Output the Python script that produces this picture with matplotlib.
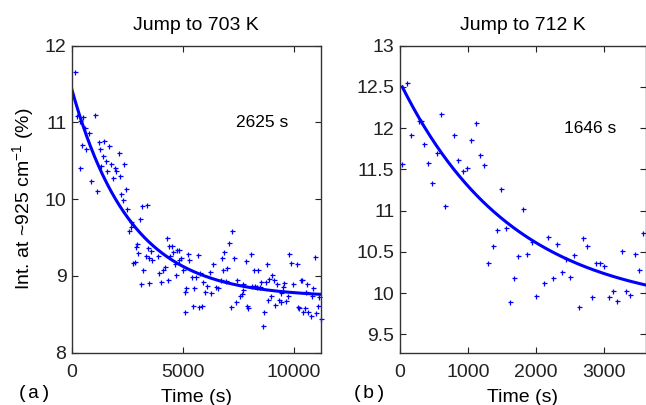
import numpy as np
import matplotlib
matplotlib.use("Agg")
import matplotlib.pyplot as plt

plt.rcParams['font.family'] = ['Liberation Sans', 'DejaVu Sans']
plt.rcParams['mathtext.fontset'] = 'custom'
plt.rcParams['mathtext.rm'] = 'Liberation Sans'
plt.rcParams['mathtext.it'] = 'Liberation Sans'

# ---- data: panel (a) Jump to 703 K ----
t_a = [120, 240, 345, 496, 572, 753, 1023, 451, 645, 375, 1203, 1443, 1654, 1278, 1398,
       2105, 1549, 1323, 1774, 1924, 1594, 2000, 2180, 1850, 2345, 872, 1143, 2420, 2225,
       2300, 2496, 3156, 2646, 2676, 2556, 3052, 2931, 2872, 2991,
       3370, 2766, 2830, 3216, 3097, 3487, 3412, 3562, 3472, 3622, 3337, 3863, 3938, 4013,
       4118, 4193, 4268, 4389, 4524, 4419, 4344, 4570, 4750, 4825, 4645, 4840, 4690, 4990,
       4900, 5095, 5215, 5290, 5140, 5396, 5590, 5666, 5516, 5080, 5471, 5741, 5847, 5771,
       5922, 6072, 5997, 6268, 6222, 6343, 6493, 6598, 6704, 6749, 6823, 7003, 6868, 6929,
       7079, 7200, 7320, 7155, 7380, 7455, 7575, 7650, 7695, 7725, 7845, 7875, 7950, 8070,
       8100, 8250, 8205, 8400, 8325, 8475, 8520, 8598, 8657, 8777, 8732, 8852, 8972, 8897,
       9032, 9095, 9153, 9230, 9349, 9424, 9409, 9500, 9559, 9649, 9754, 9800, 9860, 9950,
       10130, 10205, 10250, 10310, 10385, 10430, 10505, 10550, 10580, 10655, 10760, 10835,
       10880, 10955, 11000, 11080, 11150, 11215]
y_a = [11.65, 11.08, 11.02, 11.07, 10.92, 10.86, 11.09, 10.70, 10.65, 10.40, 10.74, 10.75,
       10.69, 10.65, 10.56, 10.60, 10.49, 10.43, 10.45, 10.41, 10.36, 10.36, 10.30, 10.27,
       10.46, 10.23, 10.11, 10.13, 10.07, 9.99, 9.87, 9.91, 9.70, 9.63, 9.58, 9.74, 9.42,
       9.37, 9.29,
       9.92, 9.17, 9.18, 9.07, 8.89, 8.91, 9.36, 9.32, 9.23, 9.21, 9.26, 9.26, 9.03, 8.92,
       9.08, 9.12, 9.49, 9.39, 9.39, 9.26, 8.94, 9.31, 9.33, 9.34, 9.15, 9.21, 9.01, 9.07,
       9.23, 8.79, 9.28, 9.21, 8.84, 8.99, 8.99, 9.27, 8.84, 8.53, 8.61, 8.59, 8.61, 9.04,
       8.92, 8.86, 8.79, 8.78, 9.05, 9.15, 8.85, 8.84, 8.94, 9.23, 9.08, 9.10, 9.31, 8.93,
       9.43, 9.58, 9.23, 8.59, 8.66, 8.95, 8.73, 8.76, 8.89, 8.81, 9.19, 8.61, 8.58, 9.28,
       8.87, 8.86, 9.08, 9.07, 8.85, 8.85, 8.92, 8.35, 8.53, 9.15, 8.92, 8.69, 8.74, 8.96,
       9.01, 8.95, 8.62, 8.89, 8.68, 8.66, 8.78, 8.85, 8.90, 8.67, 8.73, 9.28, 9.17, 8.89,
       9.15, 8.59, 8.58, 8.95, 8.94, 8.53, 8.58, 8.79, 8.89, 8.53, 8.48, 8.73,
       8.84, 9.24, 8.52, 8.60, 8.72, 8.43]
# exponential fit parameters (offset, amplitude, time constant)
fit_a = dict(A=8.72, B=2.70, tau=2625, t0=0, t1=11250)

# ---- data: panel (b) Jump to 712 K ----
t_b = [34, 98, 157, 284, 309, 353, 407, 475, 539, 603, 662, 794, 858, 922, 980, 1044, 1113,
       1176, 1235, 1299, 1363, 1422, 1485, 1554, 1618, 1676, 1740, 1804, 1873, 1936, 1995,
       2123, 2181, 2245, 2309, 2378, 2436, 2500, 2563, 2628, 2691, 2750, 2819, 2882, 2946,
       3005, 3069, 3132, 3196, 3260, 3324, 3387, 3451, 3515, 3578]
y_b = [11.57, 12.55, 11.91, 12.08, 12.08, 11.81, 11.58, 11.33, 11.70, 12.17, 11.06, 11.91,
       11.61, 11.48, 11.52, 11.85, 12.06, 11.67, 11.55, 10.37, 10.57, 10.76, 11.26, 10.79,
       9.89, 10.18, 10.45, 11.02, 10.47, 10.62, 9.97, 10.12, 10.68, 10.18, 10.59, 10.26,
       10.41, 10.19, 10.46, 9.83, 10.67, 10.57, 9.95, 10.37, 10.37, 10.33, 9.95, 10.03,
       9.90, 10.51, 10.03, 9.98, 10.47, 10.28, 10.73]
fit_b = dict(A=9.79, B=2.765, tau=1646, t0=34, t1=3650)

titles = ["Jump to 703 K", "Jump to 712 K"]
tau_labels = ["2625 s", "1646 s"]
xticks_a = [0, 5000, 10000]
yticks_a = [8, 9, 10, 11, 12]
xticks_b = [0, 1000, 2000, 3000]
yticks_b = [9.5, 10, 10.5, 11, 11.5, 12, 12.5, 13]

W, H = 646, 405
fig = plt.figure(figsize=(W / 100, H / 100), dpi=100)

def ax_rect(l, r, t, b):
    return [l / W, 1 - b / H, (r - l) / W, (b - t) / H]

ax1 = fig.add_axes(ax_rect(72, 320.5, 45.5, 352.5))
ax2 = fig.add_axes(ax_rect(400, 645.5, 45.5, 352.5))

blue = (0, 0, 1)
fs = 14

def style(ax, xt, yt, xlim, ylim):
    ax.set_xlim(*xlim)
    ax.set_ylim(*ylim)
    ax.set_xticks(xt)
    ax.set_yticks(yt)
    ax.set_yticklabels([('%g' % v) for v in yt])
    ax.tick_params(direction='in', length=4, width=0.8, top=True, right=True,
                   labelsize=fs, colors='#222222')
    ax.tick_params(axis='x', pad=8)
    ax.tick_params(axis='y', pad=4)
    for s in ax.spines.values():
        s.set_linewidth(1.0)
        s.set_color('#333333')

def draw(ax, t, y, fit):
    ax.plot(t, y, '+', color=blue, markersize=3.6, mew=0.9, clip_on=False)
    tt = np.linspace(fit['t0'], fit['t1'], 300)
    ax.plot(tt, fit['A'] + fit['B'] * np.exp(-tt / fit['tau']), color=blue, lw=2.2)

draw(ax1, t_a, y_a, fit_a)
style(ax1, xticks_a, yticks_a, (0, 11200), (8, 12))
ax1.set_title(titles[0], fontsize=fs, pad=11)
ax1.set_xlabel("Time (s)", fontsize=fs, labelpad=6)
ax1.set_ylabel("Int. at ~925 cm$^{-1}$ (%)", fontsize=fs, labelpad=6)
ax1.text(7400, 11.0, tau_labels[0], fontsize=12.5, va='center', ha='left')

draw(ax2, t_b, y_b, fit_b)
style(ax2, xticks_b, yticks_b, (0, 3610), (9.28, 13))
ax2.set_title(titles[1], fontsize=fs, pad=11)
ax2.set_xlabel("Time (s)", fontsize=fs, labelpad=6)
ax2.text(2410, 12.0, tau_labels[1], fontsize=12.5, va='center', ha='left')

fig.text(17 / W, 1 - 393 / H, "(a)", fontsize=14, family=['Liberation Mono', 'DejaVu Sans Mono'],
         va='center', ha='left')
fig.text(352 / W, 1 - 393 / H, "(b)", fontsize=14, family=['Liberation Mono', 'DejaVu Sans Mono'],
         va='center', ha='left')

fig.savefig("out.png", dpi=100)
